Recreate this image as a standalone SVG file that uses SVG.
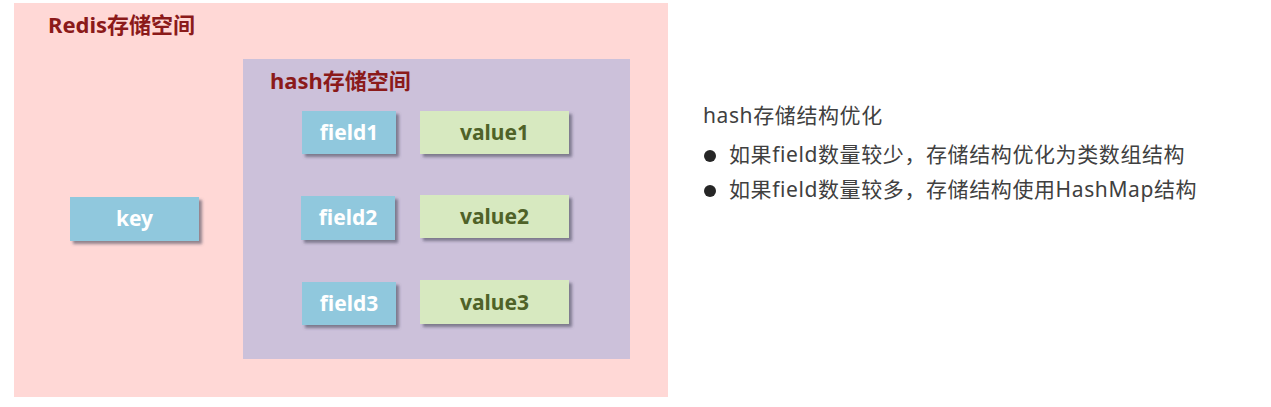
<svg xmlns="http://www.w3.org/2000/svg" width="1271" height="407" viewBox="0 0 1271 407">
<style>
.title{font-family:"Noto Sans","Noto Sans CJK SC",sans-serif;font-weight:bold;font-size:22px;fill:#8B1A1A}
.fld{fill:#90C8DD}
.val{fill:#D7E9C0}
.ft{font-family:"Noto Sans","Noto Sans CJK SC",sans-serif;font-weight:bold;font-size:21px;fill:#FFFFFF;text-anchor:middle}
.vt{font-family:"Noto Sans","Noto Sans CJK SC",sans-serif;font-weight:bold;font-size:21px;fill:#4F6228;text-anchor:middle}
.note{font-family:"Noto Sans","Noto Sans CJK SC",sans-serif;font-size:21px;fill:#404040;letter-spacing:0.6px}
</style>
<defs>
<filter id="sh" x="-20%" y="-30%" width="150%" height="180%">
<feDropShadow dx="3" dy="3" stdDeviation="1.8" flood-color="#4a4a5a" flood-opacity="0.6"/>
</filter>
</defs>
<rect width="1271" height="407" fill="#FFFFFF"/>
<g id="redis-space">
<rect x="14" y="3" width="654" height="394" fill="#FFD8D6"/>
<text class="title" x="48" y="33">Redis存储空间</text>
</g>
<g id="hash-space">
<rect x="243" y="59" width="387" height="300" fill="#CCC1DA"/>
<text class="title" x="270" y="89">hash存储空间</text>
</g>
<g id="key">
<rect class="fld" x="70" y="197" width="129" height="44" filter="url(#sh)"/>
<text class="ft" x="134.5" y="226">key</text>
</g>
<g id="field1">
<rect class="fld" x="302" y="111" width="94" height="43" filter="url(#sh)"/>
<text class="ft" x="349" y="140">field1</text>
</g>
<g id="value1">
<rect class="val" x="420" y="111" width="149" height="43" filter="url(#sh)"/>
<text class="vt" x="494.5" y="140">value1</text>
</g>
<g id="field2">
<rect class="fld" x="301" y="196" width="94" height="44" filter="url(#sh)"/>
<text class="ft" x="348" y="225">field2</text>
</g>
<g id="value2">
<rect class="val" x="420" y="195" width="149" height="43" filter="url(#sh)"/>
<text class="vt" x="494.5" y="224">value2</text>
</g>
<g id="field3">
<rect class="fld" x="302" y="282" width="94" height="43" filter="url(#sh)"/>
<text class="ft" x="349" y="311">field3</text>
</g>
<g id="value3">
<rect class="val" x="420" y="280" width="149" height="44" filter="url(#sh)"/>
<text class="vt" x="494.5" y="310">value3</text>
</g>
<g id="connectors"></g>
<g id="notes">
<text class="note" x="703" y="123">hash存储结构优化</text>
<circle cx="710" cy="156" r="6" fill="#262626"/>
<text class="note" x="729" y="162">如果field数量较少，存储结构优化为类数组结构</text>
<circle cx="710" cy="191" r="6" fill="#262626"/>
<text class="note" x="729" y="197">如果field数量较多，存储结构使用HashMap结构</text>
</g>
</svg>
